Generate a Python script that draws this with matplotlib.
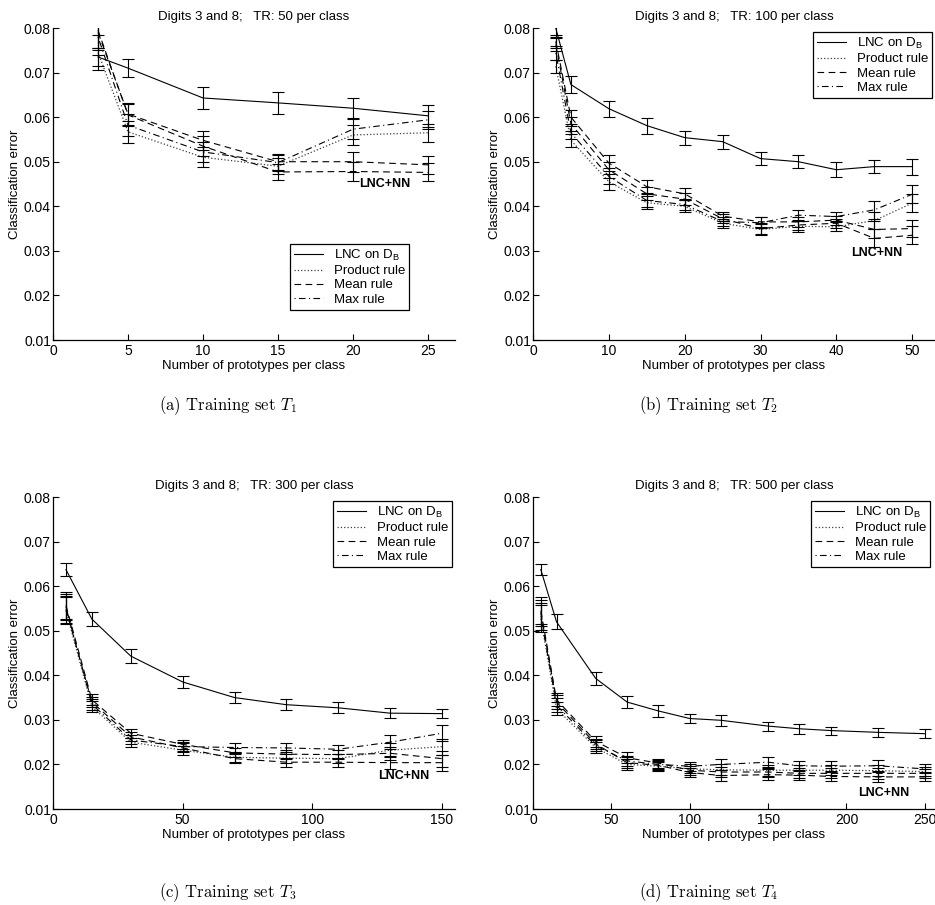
import matplotlib
matplotlib.use("Agg")
import matplotlib.pyplot as plt

plt.rcParams['font.family'] = ['Liberation Sans', 'DejaVu Sans']
plt.rcParams['mathtext.fontset'] = 'cm'

# ---- (a) TR: 50 per class
x_a = [3, 5, 10, 15, 20, 25]
lnc_a = [0.0735, 0.0710, 0.0643, 0.0632, 0.0620, 0.0603]
lnc_err_a = [0.0020, 0.0020, 0.0024, 0.0024, 0.0022, 0.0025]
prod_a = [0.0745, 0.0567, 0.0510, 0.0490, 0.0560, 0.0565]
mean_a = [0.0790, 0.0607, 0.0548, 0.0500, 0.0500, 0.0493]
max_a = [0.0780, 0.0582, 0.0522, 0.0498, 0.0573, 0.0594]
nn_a = [0.0795, 0.0605, 0.0535, 0.0477, 0.0478, 0.0476]
comb_err_a = [0.0040, 0.0025, 0.0022, 0.0018, 0.0022, 0.0020]

# ---- (b) TR: 100 per class
x_b = [3, 5, 10, 15, 20, 25, 30, 35, 40, 45, 50]
lnc_b = [0.0800, 0.0673, 0.0619, 0.0581, 0.0554, 0.0545, 0.0507, 0.0500, 0.0482, 0.0489, 0.0489]
lnc_err_b = [0.0020, 0.0019, 0.0018, 0.0018, 0.0016, 0.0016, 0.0015, 0.0015, 0.0017, 0.0014, 0.0018]
prod_b = [0.0714, 0.0548, 0.0455, 0.0408, 0.0400, 0.0362, 0.0348, 0.0355, 0.0354, 0.0368, 0.0407]
mean_b = [0.0770, 0.0600, 0.0497, 0.0444, 0.0428, 0.0378, 0.0365, 0.0365, 0.0369, 0.0348, 0.0350]
max_b = [0.0744, 0.0565, 0.0467, 0.0413, 0.0404, 0.0366, 0.0363, 0.0380, 0.0377, 0.0392, 0.0427]
nn_b = [0.0763, 0.0585, 0.0482, 0.0428, 0.0416, 0.0372, 0.0350, 0.0358, 0.0362, 0.0328, 0.0335]
comb_err_b = [0.0015, 0.0015, 0.0018, 0.0015, 0.0013, 0.0010, 0.0012, 0.0012, 0.0010, 0.0020, 0.0020]

# ---- (c) TR: 300 per class
x_c = [5, 15, 30, 50, 70, 90, 110, 130, 150]
lnc_c = [0.0637, 0.0526, 0.0443, 0.0385, 0.0350, 0.0334, 0.0327, 0.0315, 0.0314]
lnc_err_c = [0.0014, 0.0015, 0.0015, 0.0014, 0.0012, 0.0012, 0.0012, 0.0011, 0.0010]
prod_c = [0.0545, 0.0330, 0.0250, 0.0232, 0.0216, 0.0214, 0.0213, 0.0232, 0.0240]
mean_c = [0.0557, 0.0345, 0.0270, 0.0245, 0.0226, 0.0223, 0.0222, 0.0225, 0.0213]
max_c = [0.0553, 0.0335, 0.0255, 0.0240, 0.0238, 0.0237, 0.0234, 0.0250, 0.0270]
nn_c = [0.0548, 0.0340, 0.0262, 0.0237, 0.0213, 0.0205, 0.0205, 0.0204, 0.0204]
comb_err_c = [0.0030, 0.0012, 0.0010, 0.0010, 0.0010, 0.0010, 0.0010, 0.0015, 0.0018]

# ---- (d) TR: 500 per class
x_d = [5, 15, 40, 60, 80, 100, 120, 150, 170, 190, 220, 250]
lnc_d = [0.0637, 0.0520, 0.0393, 0.0340, 0.0320, 0.0303, 0.0299, 0.0286, 0.0280, 0.0276, 0.0272, 0.0269]
lnc_err_d = [0.0013, 0.0017, 0.0015, 0.0013, 0.0013, 0.0011, 0.0012, 0.0010, 0.0011, 0.0009, 0.0010, 0.0010]
prod_d = [0.0527, 0.0325, 0.0238, 0.0200, 0.0196, 0.0190, 0.0188, 0.0187, 0.0187, 0.0187, 0.0186, 0.0184]
mean_d = [0.0545, 0.0345, 0.0252, 0.0215, 0.0203, 0.0187, 0.0183, 0.0183, 0.0180, 0.0180, 0.0180, 0.0180]
max_d = [0.0532, 0.0333, 0.0242, 0.0208, 0.0200, 0.0196, 0.0200, 0.0205, 0.0197, 0.0196, 0.0197, 0.0190]
nn_d = [0.0540, 0.0340, 0.0246, 0.0204, 0.0198, 0.0182, 0.0175, 0.0177, 0.0176, 0.0173, 0.0172, 0.0172]
comb_err_d = [0.0030, 0.0015, 0.0012, 0.0012, 0.0010, 0.0010, 0.0012, 0.0012, 0.0011, 0.0011, 0.0012, 0.0010]

tr_sizes = [50, 100, 300, 500]
yticks = [0.01, 0.02, 0.03, 0.04, 0.05, 0.06, 0.07, 0.08]
captions = ['(a) Training set $T_1$', '(b) Training set $T_2$',
            '(c) Training set $T_3$', '(d) Training set $T_4$']

W, H = 935, 905
fig = plt.figure(figsize=(W / 100, H / 100), dpi=100)


def add_axes(left, top):
    return fig.add_axes([left / W, (H - top - 312) / H, 402 / W, 312 / H])


def draw(ax, x, lnc, lnc_err, prod, mean, mx, nn, cerr, tr, xmax, xticks, leg_xy, nn_xy):
    ax.plot(x, lnc, color='k', lw=0.8, label=r'LNC on $\mathregular{D_B}$')
    ax.plot(x, prod, color='0.25', lw=0.9, ls=':', label='Product rule')
    ax.plot(x, mean, color='k', lw=0.8, ls=(0, (6, 4)), label='Mean rule')
    ax.plot(x, mx, color='k', lw=0.8, ls=(0, (1, 3, 6, 3)), label='Max rule')
    ax.plot(x, nn, color='k', lw=0.8, ls=(0, (6, 4)))
    ax.errorbar(x, lnc, yerr=lnc_err, fmt='none', ecolor='k', elinewidth=0.8, capsize=4, capthick=0.8)
    for s in (prod, mean, mx, nn):
        ax.errorbar(x, s, yerr=cerr, fmt='none', ecolor='k', elinewidth=0.8, capsize=4, capthick=0.8)

    ax.set_xlim(0, xmax)
    ax.set_ylim(0.01, 0.08)
    ax.set_xticks(xticks)
    ax.set_yticks(yticks)
    ax.set_yticklabels(['%.2f' % v for v in yticks])
    ax.spines['top'].set_visible(False)
    ax.spines['right'].set_visible(False)
    ax.spines['left'].set_linewidth(0.9)
    ax.spines['bottom'].set_linewidth(0.9)
    ax.tick_params(direction='in', length=4, width=0.8, labelsize=10)
    ax.tick_params(axis='y', pad=1.5)
    ax.tick_params(axis='x', pad=3)
    ax.set_title('Digits 3 and 8;   TR: %d per class' % tr, fontsize=9.5, pad=6)
    ax.set_xlabel('Number of prototypes per class', fontsize=9.5, labelpad=1)
    ax.set_ylabel('Classification error', fontsize=9.5, labelpad=2)
    ax.text(nn_xy[0], nn_xy[1], 'LNC+NN', fontsize=9, fontweight='bold', ha='center', va='center')

    leg = ax.legend(loc='upper right', bbox_to_anchor=leg_xy, borderaxespad=0, fontsize=9.5,
                    fancybox=False, framealpha=1, edgecolor='k', borderpad=0.3,
                    labelspacing=0.15, handlelength=2.2, handletextpad=0.8)
    leg.get_frame().set_linewidth(0.9)


ax_a = add_axes(53, 28)
draw(ax_a, x_a, lnc_a, lnc_err_a, prod_a, mean_a, max_a, nn_a, comb_err_a, tr_sizes[0],
     26.8, [0, 5, 10, 15, 20, 25], (0.886, 0.308), (22.1, 0.045))

ax_b = add_axes(533, 28)
draw(ax_b, x_b, lnc_b, lnc_err_b, prod_b, mean_b, max_b, nn_b, comb_err_b, tr_sizes[1],
     53, [0, 10, 20, 30, 40, 50], (0.9925, 0.987), (45.3, 0.0295))

ax_c = add_axes(53, 497)
draw(ax_c, x_c, lnc_c, lnc_err_c, prod_c, mean_c, max_c, nn_c, comb_err_c, tr_sizes[2],
     155, [0, 50, 100, 150], (0.9925, 0.987), (135.4, 0.0175))

ax_d = add_axes(533, 497)
draw(ax_d, x_d, lnc_d, lnc_err_d, prod_d, mean_d, max_d, nn_d, comb_err_d, tr_sizes[3],
     256.5, [0, 50, 100, 150, 200, 250], (0.9876, 0.987), (224, 0.0135))

cap_xy = [(228, 406), (709, 406), (228, 893), (709, 893)]
for (cx, cy), cap in zip(cap_xy, captions):
    fig.text(cx / W, 1 - cy / H, cap, fontsize=12, family='cmr10', ha='center', va='center')

fig.savefig('out.png', dpi=100)
